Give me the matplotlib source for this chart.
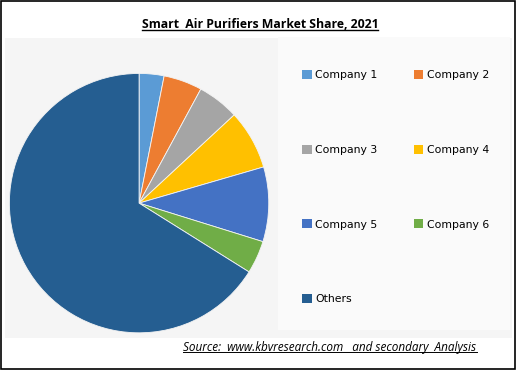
import matplotlib.pyplot as plt
from matplotlib.patches import Rectangle, Patch
from matplotlib.lines import Line2D

labels = ["Company 1", "Company 2", "Company 3", "Company 4",
          "Company 5", "Company 6", "Others"]
shares = [3.1, 4.8, 5.2, 7.4, 9.3, 4.1, 66.1]
colors = ["#5B9BD5", "#ED7D31", "#A5A5A5", "#FFC000",
          "#4472C4", "#70AD47", "#255E91"]

title = "Smart  Air Purifiers Market Share, 2021"
source = "Source:  www.kbvresearch.com   and secondary  Analysis"

W, H = 517, 370
fig = plt.figure(figsize=(W / 100, H / 100), dpi=100)
fig.patch.set_facecolor("white")

# light gray plot area and a slightly lighter legend panel
fig.patches.append(Rectangle((0.01, 1 - 338 / H), 0.98, 300 / H,
                             transform=fig.transFigure, facecolor="#f5f5f5",
                             edgecolor="none", zorder=-2))
fig.patches.append(Rectangle((278 / W, 1 - 330 / H), 232 / W, 293 / H,
                             transform=fig.transFigure, facecolor="#fafafa",
                             edgecolor="none", zorder=-1))

ax = fig.add_axes([0.0155, 0.097, 0.507, 0.708])
ax.set_zorder(2)
ax.pie(shares, colors=colors, startangle=90, counterclock=False,
       wedgeprops=dict(linewidth=0.6, edgecolor="#f4f4f4"))
ax.set_xlim(-1.01, 1.01)
ax.set_ylim(-1.01, 1.01)
ax.set_aspect("equal")

# legend in row order: reorder for matplotlib's column-major fill
order = [0, 2, 4, 6, 1, 3, 5]
handles = [Patch(facecolor=colors[i], edgecolor="none") for i in order]
leg = fig.legend(handles, [labels[i] for i in order], ncol=2,
                 loc="upper left", bbox_to_anchor=(297 / W, 1 - 65 / H),
                 frameon=False, handlelength=0.85, handleheight=0.85,
                 handletextpad=0.35, columnspacing=3.35, labelspacing=5.95,
                 borderpad=0, prop={"family": "DejaVu Sans", "size": 7.8})
leg.set_zorder(3)

t = fig.text(260 / W, 1 - 25 / H, title, ha="center", va="center",
             fontsize=8.8, fontweight="bold", family="Open Sans")
s = fig.text(330 / W, 1 - 347 / H, source, ha="center", va="center",
             fontsize=8.5, style="italic", family="Open Sans")

# underline title and source
fig.canvas.draw()
r = fig.canvas.get_renderer()
for txt, lw in ((t, 1.0), (s, 0.7)):
    bb = txt.get_window_extent(r).transformed(fig.transFigure.inverted())
    y = bb.y0 + 0.004
    fig.lines.append(Line2D([bb.x0, bb.x1], [y, y], transform=fig.transFigure,
                            color="black", linewidth=lw))

# outer border
fig.patches.append(Rectangle((0.002, 0.003), 0.995, 0.994,
                             transform=fig.transFigure, fill=False,
                             edgecolor="black", linewidth=1.2, zorder=5))

fig.savefig("out.png", dpi=100)
